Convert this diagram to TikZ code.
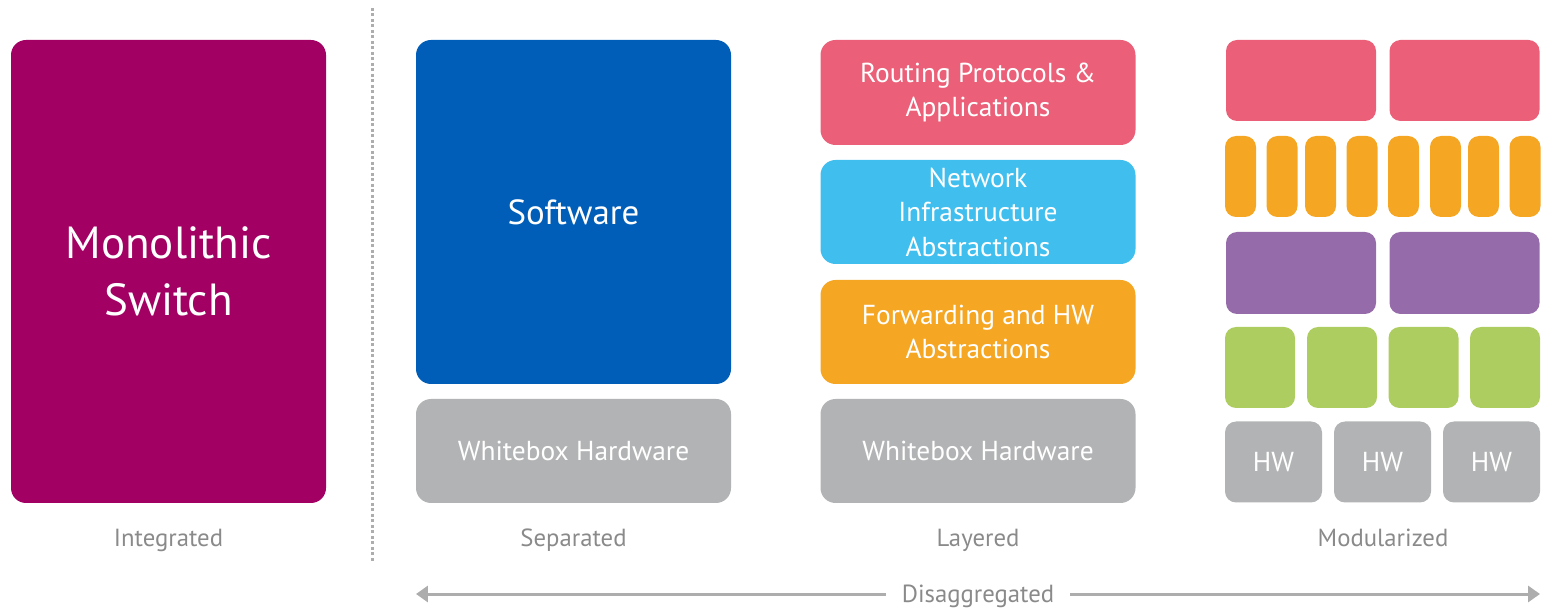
\documentclass[tikz,border=0pt]{standalone}
\usepackage{fontspec}
\setmainfont{PT Sans}
\usetikzlibrary{arrows.meta}
\definecolor{monomagenta}{HTML}{A20063}
\definecolor{swblue}{HTML}{005EB8}
\definecolor{hwgray}{HTML}{B2B3B4}
\definecolor{apppink}{HTML}{EB6078}
\definecolor{infracyan}{HTML}{40BFEF}
\definecolor{fwdorange}{HTML}{F5A623}
\definecolor{modpurple}{HTML}{956BAA}
\definecolor{modgreen}{HTML}{ADCD60}
\definecolor{labelgray}{HTML}{8A8A8A}
\definecolor{linegray}{HTML}{ADADAD}
\newlength\px
\setlength\px{0.025cm}
\tikzset{
  >={Triangle[length=8.5pt,width=11.4pt]},
  blk/.style={rounded corners=15\px, inner sep=0pt, align=center, text=white,
              font=\fontsize{19.5}{24.5}\selectfont},
  modblk/.style={blk, rounded corners=11\px},
  sz/.style 2 args={minimum width=#1\px, minimum height=#2\px},
  caption/.style={text=labelgray, anchor=base, font=\fontsize{17.6}{21}\selectfont},
}

\begin{document}
\begin{tikzpicture}[x=0.025cm, y=-0.025cm]
  \useasboundingbox (0,0) rectangle (1567,609);

  % integrated
  \node [blk, sz={315}{463}, fill=monomagenta,
         font=\fontsize{32}{40.5}\selectfont] (mono) at (168.5,271.5)
        {Monolithic\\Switch};
  \node [caption] (integ) at (168.5,547) {Integrated};

  % divider
  \coordinate (divtop) at (372,8);
  \coordinate (divbot) at (372,562);
  \draw [linegray, line width=3\px, dash pattern=on 3\px off 2.5\px] (divtop) -- (divbot);

  % separated
  \node [blk, sz={315}{344}, fill=swblue,
         font=\fontsize{24.8}{29}\selectfont] (sw) at (573.5,212) {Software};
  \node [blk, sz={315}{104}, fill=hwgray] (wbsep) at (573.5,451) {Whitebox Hardware};
  \node [caption] (sep) at (573.5,547) {Separated};

  % layered
  \node [blk, sz={315}{105}, fill=apppink] (apps) at (978,92.5)
        {Routing Protocols \&\\Applications};
  \node [blk, sz={315}{104}, fill=infracyan] (infra) at (978,212)
        {Network\\Infrastructure\\Abstractions};
  \node [blk, sz={315}{104}, fill=fwdorange] (fwd) at (978,332)
        {Forwarding and HW\\Abstractions};
  \node [blk, sz={315}{104}, fill=hwgray] (wblay) at (978,451) {Whitebox Hardware};
  \node [caption] (lay) at (978,547) {Layered};

  % modularized
  \foreach \cx [count=\i] in {1301,1464.5}
    \node [modblk, sz={150}{81}, fill=apppink] (mapp\i) at (\cx,80.5) {};
  \foreach \cx [count=\i] in {1240.5,1282,1320.5,1362,1403.5,1445.5,1483.5,1525}
    \node [modblk, sz={31}{81}, fill=fwdorange] (mfwd\i) at (\cx,176.5) {};
  \foreach \cx [count=\i] in {1301,1464.5}
    \node [modblk, sz={150}{82}, fill=modpurple] (minfra\i) at (\cx,273) {};
  \foreach \cx [count=\i] in {1260,1342,1423.5,1505}
    \node [modblk, sz={70}{81}, fill=modgreen] (mdrv\i) at (\cx,367.5) {};
  \foreach \cx [count=\i] in {1273.5,1382.5,1491.5}
    \node [modblk, sz={97}{81}, fill=hwgray] (mhw\i) at (\cx,462) {HW};
  \node [caption] (mod) at (1383,547) {Modularized};

  % disaggregated span
  \coordinate (dleft) at (416,594);
  \coordinate (dright) at (1540,594);
  \draw [linegray, line width=3\px, <->] (dleft) -- (dright);
  \node [caption, fill=white, inner xsep=16\px] (disagg) at (978,602) {Disaggregated};
\end{tikzpicture}
\end{document}
